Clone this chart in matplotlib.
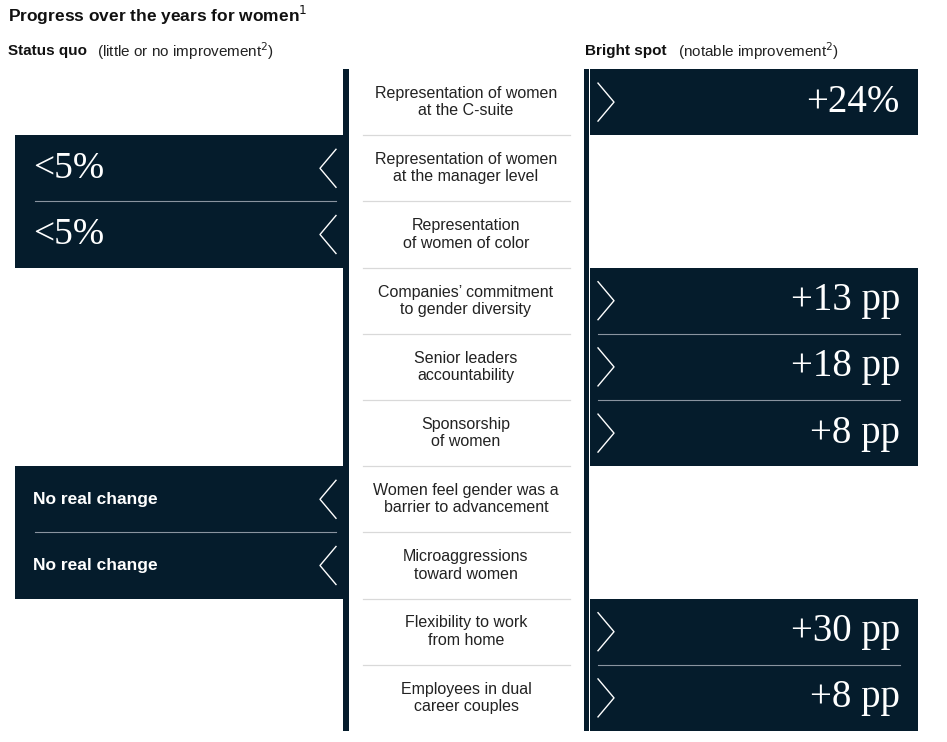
"""Status quo vs bright spot panel for women's progress."""

import matplotlib
matplotlib.use("Agg")
import matplotlib.pyplot as plt
from matplotlib.patches import Rectangle

NAVY = "#051c2c"
SANS = "Liberation Sans"
SERIF = "Liberation Serif"

labels = [
    "Representation of women\nat the C-suite",
    "Representation of women\nat the manager level",
    "Representation\nof women of color",
    "Companies\u2019 commitment\nto gender diversity",
    "Senior leaders\naccountability",
    "Sponsorship\nof women",
    "Women feel gender was a\nbarrier to advancement",
    "Microaggressions\ntoward women",
    "Flexibility to work\nfrom home",
    "Employees in dual\ncareer couples",
]
status_quo = [None, "<5%", "<5%", None, None, None,
              "No real change", "No real change", None, None]
bright_spot = ["+24%", None, None, "+13 pp", "+18 pp", "+8 pp",
               None, None, "+30 pp", "+8 pp"]

TOP, ROW_H = 69, 66.2
LX0, LX1 = 15, 343
RX0, RX1 = 590, 918

fig = plt.figure(figsize=(9.47, 7.42), dpi=100)
ax = fig.add_axes([0, 0, 1, 1])
ax.set_xlim(0, 947)
ax.set_ylim(742, 0)
ax.axis("off")

ax.text(8, 15, "Progress over the years for women$^{1}$", fontsize=12.5,
        family=SANS, fontweight="bold", va="center", color="#111111")
ax.text(8, 51, "Status quo", fontsize=11, family=SANS, fontweight="bold",
        va="center", color="#111111")
ax.text(97, 51, "(little or no improvement$^{2}$)", fontsize=11, family=SANS,
        va="center", color="#222222")
ax.text(585, 51, "Bright spot", fontsize=11, family=SANS, fontweight="bold",
        va="center", color="#111111")
ax.text(678, 51, "(notable improvement$^{2}$)", fontsize=11, family=SANS,
        va="center", color="#222222")

bottom = TOP + ROW_H * len(labels)
ax.add_patch(Rectangle((343, TOP), 6, bottom - TOP, color=NAVY, lw=0))
ax.add_patch(Rectangle((584, TOP), 5, bottom - TOP, color=NAVY, lw=0))

for i, label in enumerate(labels):
    y0 = TOP + i * ROW_H
    yc = y0 + ROW_H / 2
    ax.text(466, yc, label, ha="center", va="center", fontsize=11.5,
            family=SANS, color="#222222", linespacing=1.2)
    if i < len(labels) - 1:
        ax.plot([363, 570], [y0 + ROW_H] * 2, color="#d9d9d9", lw=0.9)

    val = status_quo[i]
    if val:
        ax.add_patch(Rectangle((LX0, y0), LX1 - LX0, ROW_H, color=NAVY, lw=0))
        if i > 0 and status_quo[i - 1]:
            ax.plot([35, 336], [y0, y0], color="#8a94a0", lw=0.8)
        ax.plot([336, 320, 336], [yc - 19, yc, yc + 19], color="white", lw=1)
        if val.startswith("<"):
            ax.text(33, yc, val, ha="left", va="center", fontsize=27,
                    family=SERIF, color="white")
        else:
            ax.text(33, yc, val, ha="left", va="center", fontsize=12.5,
                    family=SANS, fontweight="bold", color="white")

    val = bright_spot[i]
    if val:
        ax.add_patch(Rectangle((RX0, y0), RX1 - RX0, ROW_H, color=NAVY, lw=0))
        if i > 0 and bright_spot[i - 1]:
            ax.plot([598, 900], [y0, y0], color="#8a94a0", lw=0.8)
        ax.plot([598, 614, 598], [yc - 19, yc, yc + 19], color="white", lw=1)
        ax.text(900, yc, val, ha="right", va="center", fontsize=28,
                family=SERIF, color="white")

fig.savefig("out.png", dpi=100)
